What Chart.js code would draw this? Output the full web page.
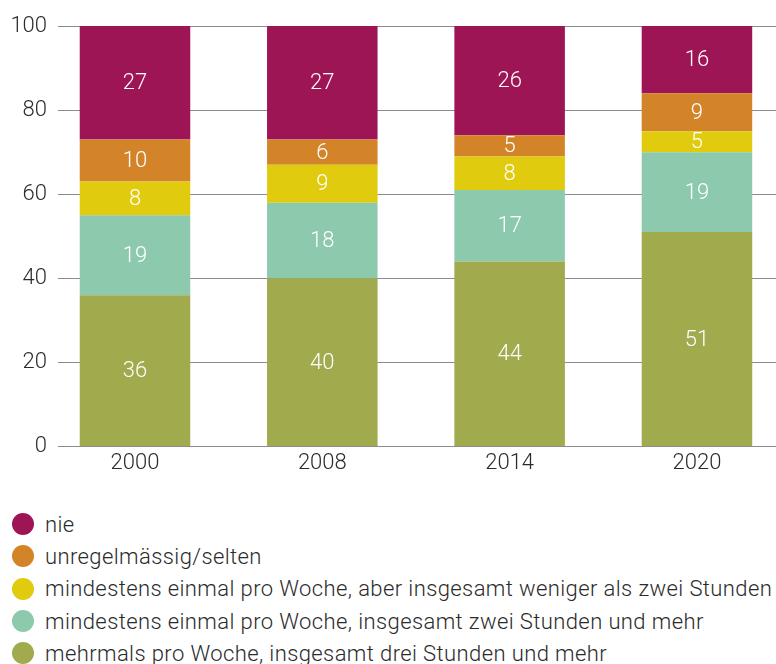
<!DOCTYPE html>
<html>
<head>
<meta charset="utf-8">
<script src="https://cdn.jsdelivr.net/npm/chart.js@4"></script>
<style>
  html, body { margin: 0; padding: 0; background: #fff; overflow: hidden; }
  #wrap { position: relative; width: 776px; height: 473px; }
  #legend { position: absolute; left: 12px; top: 508px; font-family: Roboto, sans-serif; font-weight: 300; font-size: 22px; letter-spacing: 0.4px; color: #2b2b2b; }
  #legend div { display: flex; align-items: center; height: 32.3px; white-space: nowrap; }
  #legend span.dot { display: inline-block; width: 22px; height: 22px; border-radius: 50%; margin-right: 11px; }
</style>
</head>
<body>
<div id="wrap"><canvas id="myChart" width="776" height="473"></canvas></div>
<div id="legend"></div>
<script>
// Data
const years = ['2000', '2008', '2014', '2020'];
const mehrmals = [36, 40, 44, 51];
const zweiStunden = [19, 18, 17, 19];
const wenigerZwei = [8, 9, 8, 5];
const selten = [10, 6, 5, 9];
const nie = [27, 27, 26, 16];

const yTicks = [0, 20, 40, 60, 80, 100];

const series = [
    { label: 'mehrmals pro Woche, insgesamt drei Stunden und mehr', data: mehrmals, color: '#a1aa4c' },
    { label: 'mindestens einmal pro Woche, insgesamt zwei Stunden und mehr', data: zweiStunden, color: '#8dcaad' },
    { label: 'mindestens einmal pro Woche, aber insgesamt weniger als zwei Stunden', data: wenigerZwei, color: '#e0cb0e' },
    { label: 'unregelmässig/selten', data: selten, color: '#d38428' },
    { label: 'nie', data: nie, color: '#9e1556' }
];

const FONT = 'Roboto, sans-serif';

// white numbers in the middle of each segment
const barLabels = {
    id: 'barLabels',
    afterDatasetsDraw(chart) {
        const ctx = chart.ctx;
        ctx.save();
        ctx.fillStyle = '#ffffff';
        ctx.font = '300 22px ' + FONT;
        ctx.textAlign = 'center';
        ctx.textBaseline = 'middle';
        chart.data.datasets.forEach((ds, di) => {
            chart.getDatasetMeta(di).data.forEach((el, i) => {
                const v = ds.data[i].y;
                ctx.fillText(v, el.x, (el.y + el.base) / 2 + 1);
            });
        });
        ctx.restore();
    }
};

const ctx = document.getElementById('myChart').getContext('2d');
const myChart = new Chart(ctx, {
    type: 'bar',
    data: {
        datasets: series.map(s => ({
            label: s.label,
            data: s.data.map((v, i) => ({ x: i, y: v })),
            backgroundColor: s.color,
            borderWidth: 0,
            categoryPercentage: 1,
            barPercentage: 0.59
        }))
    },
    options: {
        responsive: false,
        animation: false,
        layout: { padding: { top: 26, right: 0, bottom: 0, left: 0 } },
        plugins: {
            legend: { display: false },
            tooltip: { enabled: false }
        },
        scales: {
            x: {
                type: 'linear',
                stacked: true,
                offset: false,
                min: -0.411,
                max: 3.422,
                afterBuildTicks: scale => { scale.ticks = years.map((_, i) => ({ value: i })); },
                grid: { display: false },
                border: { display: false },
                ticks: {
                    autoSkip: false,
                    padding: -4,
                    color: '#2b2b2b',
                    font: { family: FONT, size: 22, weight: 300 },
                    callback: v => years[v]
                }
            },
            y: {
                stacked: true,
                min: 0,
                max: 100,
                afterBuildTicks: scale => { scale.ticks = yTicks.map(v => ({ value: v })); },
                afterFit: scale => { scale.width = 58; scale.paddingTop = 0; },
                grid: { color: '#8c8c8c', lineWidth: 1, drawTicks: false },
                border: { display: false },
                ticks: {
                    padding: 11,
                    color: '#2b2b2b',
                    font: { family: FONT, size: 22, weight: 300 }
                }
            }
        }
    },
    plugins: [barLabels]
});

// legend, top item first
const legend = document.getElementById('legend');
series.slice().reverse().forEach(s => {
    const row = document.createElement('div');
    row.innerHTML = '<span class="dot" style="background:' + s.color + '"></span>' + s.label;
    legend.appendChild(row);
});
</script>
</body>
</html>
